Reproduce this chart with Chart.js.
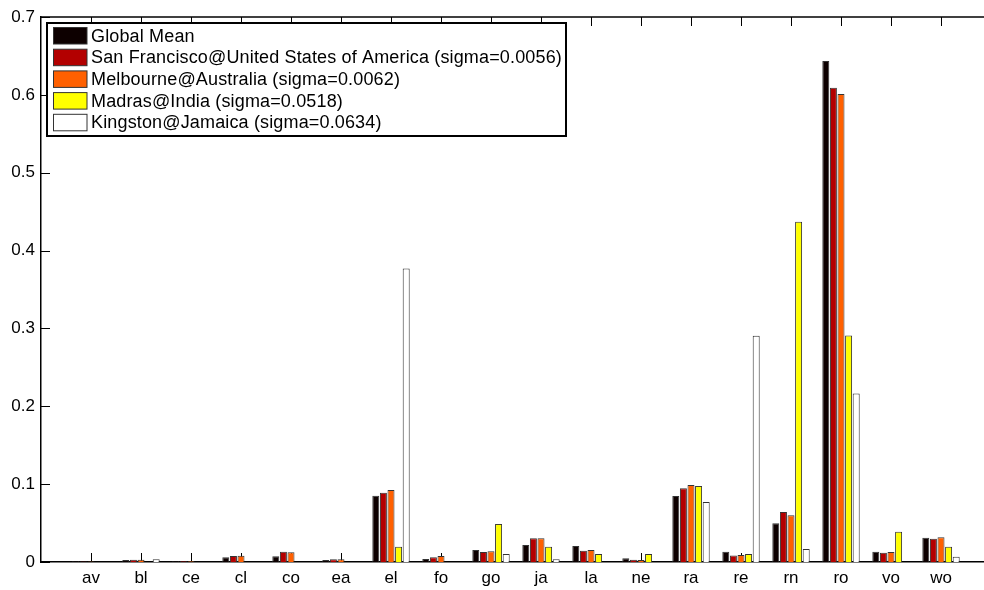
<!DOCTYPE html>
<html>
<head>
<meta charset="utf-8">
<script src="https://cdn.jsdelivr.net/npm/chart.js@4"></script>
<style>
  html, body { margin: 0; padding: 0; background: #fff; }
  #wrap { width: 984px; height: 590px; position: relative; }
</style>
</head>
<body>
<div id="wrap"><canvas id="barChart" width="984" height="590"></canvas></div>
<script>
// Data
const categories = ['av', 'bl', 'ce', 'cl', 'co', 'ea', 'el', 'fo', 'go', 'ja', 'la', 'ne', 'ra', 're', 'rn', 'ro', 'vo', 'wo'];
const seriesNames = [
    'Global Mean',
    'San Francisco@United States of America (sigma=0.0056)',
    'Melbourne@Australia (sigma=0.0062)',
    'Madras@India (sigma=0.0518)',
    'Kingston@Jamaica (sigma=0.0634)'
];
const globalMean   = [0.001, 0.0026, 0.001, 0.006, 0.0073, 0.0026, 0.085, 0.0039, 0.0154, 0.0219, 0.0206, 0.0047, 0.0849, 0.0133, 0.0498, 0.6435, 0.0133, 0.0313];
const sanFrancisco = [0.0005, 0.003, 0.001, 0.0077, 0.0133, 0.0035, 0.089, 0.006, 0.0129, 0.0304, 0.0146, 0.003, 0.0948, 0.0082, 0.0643, 0.609, 0.012, 0.030];
const melbourne    = [0.0005, 0.003, 0.001, 0.008, 0.0125, 0.0035, 0.0926, 0.0077, 0.0137, 0.0304, 0.0154, 0.0026, 0.099, 0.009, 0.060, 0.601, 0.0129, 0.0318];
const madras       = [0, 0, 0, 0, 0, 0, 0.0197, 0, 0.0489, 0.0197, 0.0103, 0.0103, 0.0977, 0.0103, 0.437, 0.291, 0.039, 0.0197];
const kingston     = [0, 0.0035, 0, 0, 0, 0, 0.377, 0, 0.0103, 0.0034, 0, 0, 0.0772, 0.2907, 0.0167, 0.2165, 0, 0.0068];
const yTicks = [0, 0.1, 0.2, 0.3, 0.4, 0.5, 0.6, 0.7];

const seriesValues = [globalMean, sanFrancisco, melbourne, madras, kingston];
const seriesColors = ['#0d0000', '#b30000', '#ff6000', '#ffff00', '#ffffff'];

const datasets = seriesValues.map((vals, i) => ({
    label: seriesNames[i],
    data: vals.map((v, j) => ({ x: j + 1, y: v })),
    backgroundColor: seriesColors[i],
    borderColor: '#333',
    borderWidth: 1,
    categoryPercentage: 0.76,
    barPercentage: 0.92
}));

const fontFamily = '"Liberation Sans", Arial, Helvetica, sans-serif';

// MATLAB-like inward ticks and top frame line
const axisDecor = {
    id: 'axisDecor',
    beforeDatasetsDraw(chart) {
        const { ctx, chartArea: a, scales: { x, y } } = chart;
        ctx.save();
        ctx.strokeStyle = '#000';
        ctx.lineWidth = 1;
        ctx.beginPath();
        x.ticks.forEach(t => {
            const px = Math.round(x.getPixelForValue(t.value)) + 0.5;
            ctx.moveTo(px, a.bottom); ctx.lineTo(px, a.bottom - 9);
            ctx.moveTo(px, a.top); ctx.lineTo(px, a.top + 9);
        });
        y.ticks.forEach(t => {
            const py = Math.round(y.getPixelForValue(t.value)) + 0.5;
            ctx.moveTo(a.left, py); ctx.lineTo(a.left + 9, py);
        });
        ctx.stroke();
        ctx.restore();
    },
    afterDraw(chart) {
        const { ctx, chartArea: a } = chart;
        ctx.save();
        ctx.strokeStyle = '#000';
        ctx.lineWidth = 1.5;
        ctx.beginPath();
        ctx.moveTo(a.left, a.top); ctx.lineTo(chart.width, a.top);
        ctx.stroke();
        ctx.restore();
    }
};

// legend box drawn inside the plot, top-left
const boxLegend = {
    id: 'boxLegend',
    afterDraw(chart) {
        const { ctx } = chart;
        const bx = 47, by = 23, bw = 519, bh = 113;
        ctx.save();
        ctx.fillStyle = '#fff';
        ctx.fillRect(bx, by, bw, bh);
        ctx.strokeStyle = '#000';
        ctx.lineWidth = 2;
        ctx.strokeRect(bx, by, bw, bh);
        ctx.font = '18px ' + fontFamily;
        ctx.letterSpacing = '0.15px';
        ctx.textBaseline = 'middle';
        chart.data.datasets.forEach((ds, i) => {
            const cy = 35.7 + i * 21.7;
            ctx.fillStyle = ds.backgroundColor;
            ctx.fillRect(53.5, cy - 8.2, 33.5, 16.5);
            ctx.strokeStyle = '#333';
            ctx.lineWidth = 1;
            ctx.strokeRect(53.5, cy - 8.2, 33.5, 16.5);
            ctx.fillStyle = '#000';
            ctx.fillText(ds.label, 91, cy + 1);
        });
        ctx.restore();
    }
};

const ctx = document.getElementById('barChart').getContext('2d');

new Chart(ctx, {
    type: 'bar',
    data: { datasets: datasets },
    plugins: [axisDecor, boxLegend],
    options: {
        responsive: false,
        animation: false,
        layout: { padding: { top: 17, right: 0, left: 0, bottom: 0 } },
        plugins: {
            legend: { display: false },
            tooltip: { enabled: false }
        },
        scales: {
            x: {
                type: 'linear',
                min: 0,
                max: 18.86,
                offset: false,
                afterBuildTicks: (scale) => {
                    scale.ticks = categories.map((c, i) => ({ value: i + 1 }));
                },
                afterFit: (scale) => { scale.height = 28; },
                ticks: {
                    callback: (v) => categories[v - 1],
                    color: '#000',
                    font: { family: fontFamily, size: 17 },
                    padding: 6,
                    maxRotation: 0,
                    autoSkip: false
                },
                grid: { display: false, drawTicks: false },
                border: { display: true, color: '#000', width: 1.5 }
            },
            y: {
                min: 0,
                max: 0.7,
                afterBuildTicks: (scale) => {
                    scale.ticks = yTicks.map(v => ({ value: v }));
                },
                afterFit: (scale) => { scale.width = 41; },
                ticks: {
                    callback: (v) => String(Math.round(v * 10) / 10),
                    color: '#000',
                    font: { family: fontFamily, size: 17 },
                    padding: 6
                },
                grid: { display: false, drawTicks: false },
                border: { display: true, color: '#000', width: 1.5 }
            }
        }
    }
});
</script>
</body>
</html>
